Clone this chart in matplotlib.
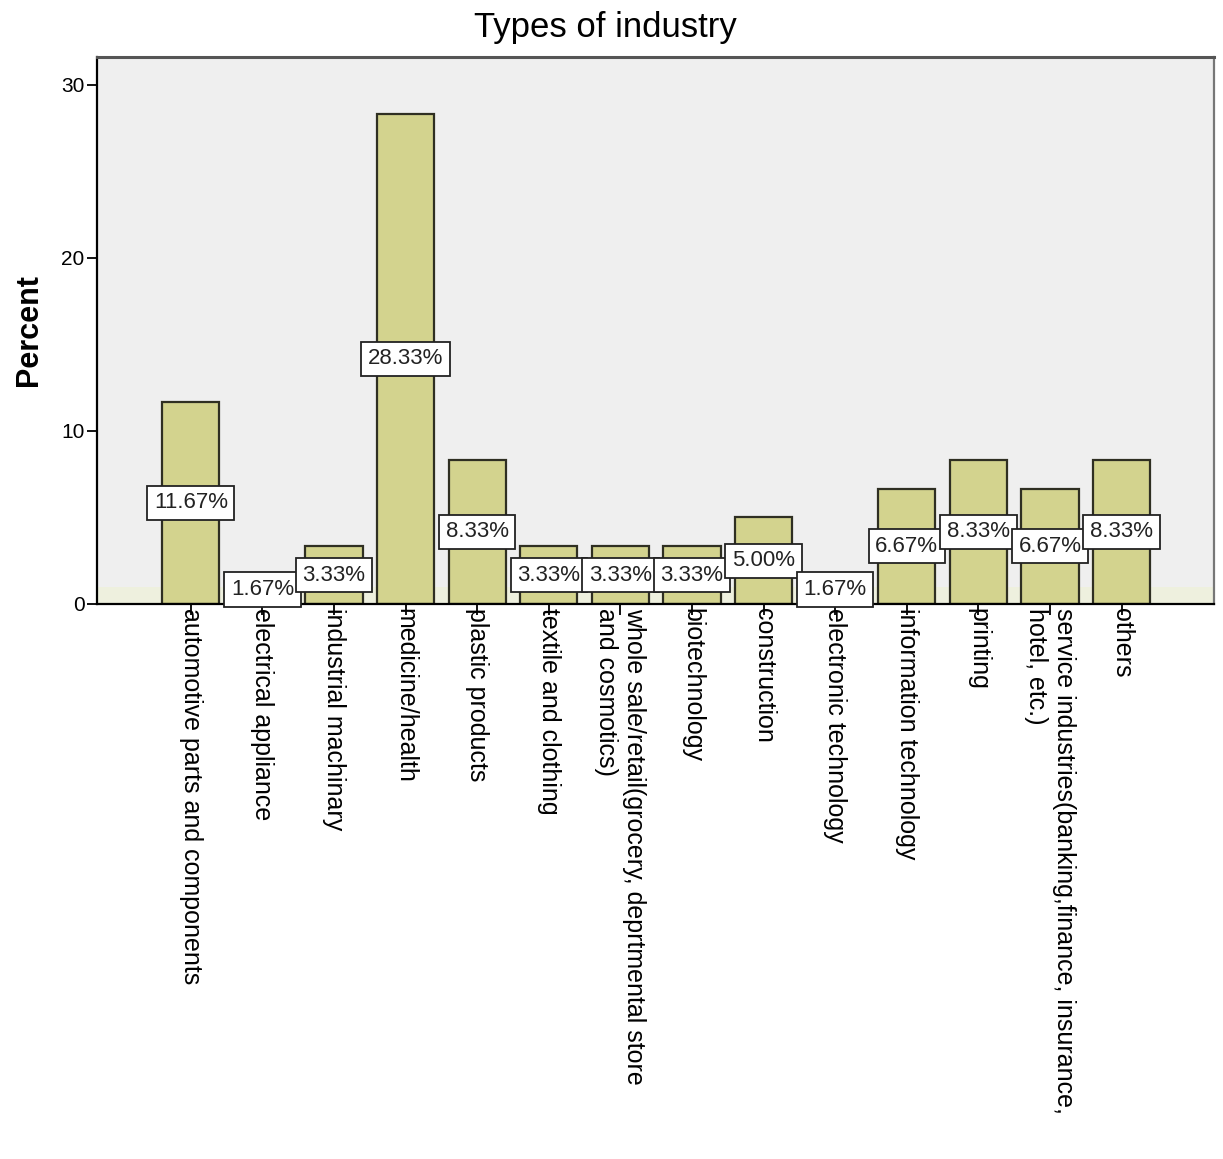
# ============================================
# Types of industry - percent of respondents
# ============================================

import matplotlib
matplotlib.use("Agg")
import matplotlib.pyplot as plt

plt.rcParams["font.family"] = ["Liberation Sans", "DejaVu Sans"]

# Dados
categorias = [
    "automotive parts and components",
    "electrical appliance",
    "industrial machinary",
    "medicine/health",
    "plastic products",
    "textile and clothing",
    "whole sale/retail(grocery, deprtmental store\nand cosmotics)",
    "biotechnology",
    "construction",
    "electronic technology",
    "information technology",
    "printing",
    "service industries(banking,finance, insurance,\nhotel, etc.)",
    "others",
]
percentuais = [11.67, 1.67, 3.33, 28.33, 8.33, 3.33, 3.33, 3.33,
               5.00, 1.67, 6.67, 8.33, 6.67, 8.33]
rotulos = [f"{v:.2f}%" for v in percentuais]

# ============================================
# Gráfico
# ============================================

fig = plt.figure(figsize=(12.23, 11.59), dpi=100)
fig.patch.set_facecolor("white")
ax = fig.add_axes([0.0793, 0.4789, 0.9133, 0.4719])
ax.set_facecolor("#efefef")

x = range(len(categorias))

# faixa clara perto da base
ax.axhspan(0, 1.0, color="#eef0de", zorder=0, lw=0)

ax.bar(x, percentuais, width=0.8, color="#d3d38e",
       edgecolor="#2f2f22", linewidth=1.6, zorder=2)

# rótulos com o valor no meio de cada barra
for i, (v, txt) in enumerate(zip(percentuais, rotulos)):
    ax.text(i, v / 2, txt, ha="center", va="center", fontsize=16,
            color="#222222", zorder=4,
            bbox=dict(boxstyle="square,pad=0.3", facecolor="white",
                      edgecolor="#222222", linewidth=1.3))

ax.set_xlim(-1.31, 14.29)
ax.set_ylim(0, 31.6)

ax.set_yticks([0, 10, 20, 30])
ax.tick_params(axis="y", labelsize=15, length=7, width=1.3, pad=2)
ax.set_xticks(list(x))
ax.set_xticklabels(categorias, rotation=-90, ha="center", va="top",
                   multialignment="left", fontsize=18)
ax.tick_params(axis="x", length=8, width=1.3, pad=-5)

ax.set_ylabel("Percent", fontsize=22, fontweight="bold", labelpad=12)

for lado in ["left", "bottom"]:
    ax.spines[lado].set_color("black")
    ax.spines[lado].set_linewidth(1.6)
ax.spines["top"].set_color("#555555")
ax.spines["top"].set_linewidth(2.2)
ax.spines["right"].set_color("#777777")
ax.spines["right"].set_linewidth(1.6)

fig.text(0.495, 1 - 27 / 1159, "Types of industry", ha="center",
         va="center", fontsize=25)

plt.savefig("out.png", dpi=100)
